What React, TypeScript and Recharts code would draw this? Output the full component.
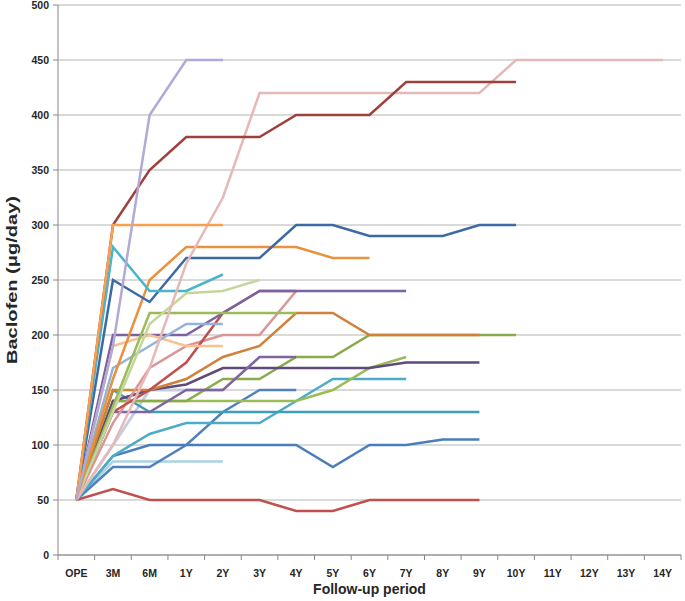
import React from 'react';
import { LineChart, Line, XAxis, YAxis, CartesianGrid } from 'recharts';

const categories = ['OPE', '3M', '6M', '1Y', '2Y', '3Y', '4Y', '5Y', '6Y', '7Y', '8Y', '9Y', '10Y', '11Y', '12Y', '13Y', '14Y'];
const yTicks = [0, 50, 100, 150, 200, 250, 300, 350, 400, 450, 500];

const lavender = [50, 190, 400, 450, 450];
const darkRed = [50, 300, 350, 380, 380, 380, 400, 400, 400, 430, 430, 430, 430];
const lightPink = [50, 100, 170, 265, 325, 420, 420, 420, 420, 420, 420, 420, 450, 450, 450, 450, 450];
const orange300 = [50, 300, 300, 300, 300];
const cyan255 = [50, 280, 240, 240, 255];
const darkBlue300 = [50, 250, 230, 270, 270, 270, 300, 300, 290, 290, 290, 300, 300];
const orange270 = [50, 160, 250, 280, 280, 280, 280, 270, 270];
const lightGreen250 = [50, 130, 210, 238, 240, 250];
const green220 = [50, 135, 220, 220, 220, 220, 220];
const lightBlue210 = [50, 170, 190, 210, 210];
const purple240 = [50, 200, 200, 200, 220, 240, 240, 240, 240, 240];
const peach190 = [50, 190, 200, 190, 190];
const red50 = [50, 60, 50, 50, 50, 50, 40, 40, 50, 50, 50, 50];
const blue150 = [50, 80, 80, 100, 130, 150, 150];
const blue105 = [50, 90, 100, 100, 100, 100, 100, 80, 100, 100, 105, 105];
const teal160 = [50, 90, 110, 120, 120, 120, 140, 160, 160, 160];
const teal130 = [50, 150, 130, 130, 130, 130, 130, 130, 130, 130, 130, 130];
const lightBlue85 = [50, 85, 85, 85, 85];
const grey150 = [50, 100, 150, 150, 150];
const darkOrange200 = [50, 150, 150, 160, 180, 190, 220, 220, 200, 200, 200, 200];
const green200 = [50, 140, 140, 140, 160, 160, 180, 180, 200, 200, 200, 200, 200];
const yellowGreen180 = [50, 140, 140, 140, 140, 140, 140, 150, 170, 180];
const darkPurple175 = [50, 140, 150, 155, 170, 170, 170, 170, 170, 175, 175, 175];
const purple180 = [50, 130, 130, 150, 150, 180, 180];
const rose240 = [50, 120, 170, 190, 200, 200, 240];
const red240 = [50, 130, 150, 175, 220, 240, 240];

const seriesList = [
  { key: 'grey150', values: grey150, color: '#c6cde0', width: 3 },
  { key: 'lightBlue85', values: lightBlue85, color: '#a9d3e3', width: 2.5 },
  { key: 'red50', values: red50, color: '#c0504d', width: 2.5 },
  { key: 'blue105', values: blue105, color: '#4a7ebb', width: 2.5 },
  { key: 'blue150', values: blue150, color: '#4f81bd', width: 2.5 },
  { key: 'teal160', values: teal160, color: '#4bacc6', width: 2.5 },
  { key: 'teal130', values: teal130, color: '#3e9db8', width: 2.5 },
  { key: 'yellowGreen180', values: yellowGreen180, color: '#9bbb59', width: 2.5 },
  { key: 'green200', values: green200, color: '#8aab4a', width: 2.5 },
  { key: 'darkPurple175', values: darkPurple175, color: '#604a7b', width: 2.5 },
  { key: 'purple180', values: purple180, color: '#8064a2', width: 2.5 },
  { key: 'darkOrange200', values: darkOrange200, color: '#d0813a', width: 2.5 },
  { key: 'rose240', values: rose240, color: '#d99694', width: 2.5 },
  { key: 'red240', values: red240, color: '#c0504d', width: 2.5 },
  { key: 'purple240', values: purple240, color: '#7b62a0', width: 2.5 },
  { key: 'peach190', values: peach190, color: '#fac090', width: 2.5 },
  { key: 'lightBlue210', values: lightBlue210, color: '#95b3d7', width: 2.5 },
  { key: 'green220', values: green220, color: '#9bbb59', width: 2.5 },
  { key: 'lightGreen250', values: lightGreen250, color: '#c3d69b', width: 2.5 },
  { key: 'orange270', values: orange270, color: '#e8913f', width: 2.5 },
  { key: 'darkBlue300', values: darkBlue300, color: '#3c6aa3', width: 2.5 },
  { key: 'cyan255', values: cyan255, color: '#4bb3cc', width: 2.5 },
  { key: 'lightPink', values: lightPink, color: '#e6b9b8', width: 2.5 },
  { key: 'darkRed', values: darkRed, color: '#a0403c', width: 2.5 },
  { key: 'orange300', values: orange300, color: '#f9a04f', width: 2.5 },
  { key: 'lavender', values: lavender, color: '#b1a9d6', width: 2.5 },
];

const data = categories.map((cat, i) => {
  const row: Record<string, any> = { cat };
  seriesList.forEach((s) => {
    row[s.key] = i < s.values.length ? s.values[i] : null;
  });
  return row;
});

const W = 685;
const H = 601;
const LEFT = 58;
const RIGHT = 4;
const TOP = 5;
const XAXIS_H = 46;
const band = (W - LEFT - RIGHT) / categories.length;
const half = band / 2;
const FONT = '"Liberation Sans", Arial, sans-serif';

const XTick = (props: any) => {
  const { x, y, payload, index } = props;
  return (
    <g>
      <line x1={x - half} x2={x - half} y1={y} y2={y + 5} stroke="#868686" strokeWidth={1} />
      {index === categories.length - 1 && (
        <line x1={x + half} x2={x + half} y1={y} y2={y + 5} stroke="#868686" strokeWidth={1} />
      )}
      <text x={x} y={y + 22} textAnchor="middle" fontSize={10.5} fontWeight="bold" fill="#262626" fontFamily={FONT}>
        {payload.value}
      </text>
    </g>
  );
};

const YTitle = (props: any) => {
  const { viewBox } = props;
  const cx = viewBox.x + 17;
  const cy = viewBox.y + viewBox.height / 2;
  return (
    <text
      x={cx}
      y={cy}
      transform={`rotate(-90, ${cx}, ${cy})`}
      textAnchor="middle"
      fontSize={15}
      fontWeight="bold"
      fill="#262626"
      fontFamily={FONT}
      textLength={168}
      lengthAdjust="spacingAndGlyphs"
    >
      Baclofen (μg/day)
    </text>
  );
};

const XTitle = (props: any) => {
  const { viewBox } = props;
  const cx = viewBox.x + viewBox.width / 2;
  const cy = viewBox.y + 39;
  return (
    <text x={cx} y={cy} textAnchor="middle" fontSize={14} fontWeight="bold" fill="#262626" fontFamily={FONT}>
      Follow-up period
    </text>
  );
};

export default function App() {
  return (
    <div style={{ position: 'absolute', left: 0, top: 0, width: W, height: H, background: '#fff' }}>
      <LineChart width={W} height={H} data={data} margin={{ top: TOP, right: RIGHT, left: 0, bottom: 0 }}>
        <CartesianGrid vertical={false} stroke="#b4b4b4" strokeWidth={1} />
        <XAxis
          dataKey="cat"
          height={XAXIS_H}
          padding={{ left: half, right: half }}
          interval={0}
          tickSize={0}
          tickMargin={0}
          tickLine={false}
          axisLine={{ stroke: '#868686' }}
          tick={<XTick />}
          label={<XTitle />}
        />
        <YAxis
          width={LEFT}
          domain={[0, 500]}
          ticks={yTicks}
          interval={0}
          tickSize={5}
          tickMargin={4}
          axisLine={{ stroke: '#868686' }}
          tickLine={{ stroke: '#868686' }}
          tick={{ fontSize: 10.5, fontWeight: 'bold', fill: '#262626', fontFamily: FONT }}
          label={<YTitle />}
        />
        {seriesList.map((s) => (
          <Line
            key={s.key}
            dataKey={s.key}
            type="linear"
            stroke={s.color}
            strokeWidth={s.width}
            dot={false}
            activeDot={false}
            isAnimationActive={false}
            connectNulls={false}
          />
        ))}
      </LineChart>
    </div>
  );
}
